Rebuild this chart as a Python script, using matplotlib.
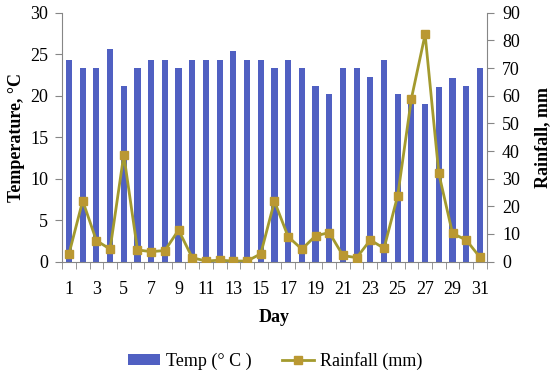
import numpy as np
import matplotlib
matplotlib.use("Agg")
import matplotlib.pyplot as plt
from matplotlib.ticker import MultipleLocator

plt.rcParams['font.family'] = ['Liberation Serif', 'DejaVu Serif']

days = np.arange(1, 32)
temp = [24.3, 23.3, 23.4, 25.7, 21.2, 23.3, 24.3, 24.3, 23.3, 24.3,
        24.3, 24.3, 25.4, 24.3, 24.3, 23.3, 24.3, 23.3, 21.2, 20.2,
        23.3, 23.3, 22.3, 24.3, 20.2, 19.6, 19.0, 21.1, 22.2, 21.2, 23.3]
rain = [2.8, 22.0, 7.6, 4.5, 38.6, 4.2, 3.6, 4.0, 11.4, 1.4,
        0.2, 0.5, 0.2, 0.2, 2.8, 21.8, 9.0, 4.5, 9.3, 10.5,
        2.2, 1.4, 7.8, 4.8, 23.9, 59.0, 82.2, 31.9, 10.2, 7.8, 1.6]

bar_col = "#5060C2"
line_col = "#A39A2E"
mark_col = "#BA9832"
grey = "#868686"

fig = plt.figure(figsize=(5.5, 3.78), dpi=100)
ax = fig.add_axes([0.113, 0.308, 0.772, 0.658])
ax2 = ax.twinx()

b = ax.bar(days, temp, width=0.45, color=bar_col, label="Temp (° C )", zorder=2)
l, = ax2.plot(days, rain, color=line_col, lw=2, marker='s', markersize=6,
              markerfacecolor=mark_col, markeredgecolor=mark_col,
              label="Rainfall (mm)")

ax.set_xlim(0.5, 31.5)
ax.set_ylim(0, 30)
ax2.set_ylim(0, 90)
ax.yaxis.set_major_locator(MultipleLocator(5))
ax2.yaxis.set_major_locator(MultipleLocator(10))
ax.set_xticks(days[::2])
ax.set_xticks(np.arange(0.5, 32, 1), minor=True)
ax.tick_params(axis='x', which='major', length=0, labelsize=13, pad=14)
ax.tick_params(axis='x', which='minor', length=5, color=grey)
ax.tick_params(axis='y', labelsize=13, length=5, color=grey, pad=5)
ax2.tick_params(axis='y', labelsize=13, length=5, color=grey, pad=6)

for a in (ax, ax2):
    a.spines['top'].set_visible(False)
    for s in ('left', 'right', 'bottom'):
        a.spines[s].set_color(grey)
ax.spines['right'].set_visible(False)
ax2.spines['left'].set_visible(False)
ax2.spines['bottom'].set_visible(False)

ax.set_xlabel("Day", fontsize=13, fontweight='bold', labelpad=8)
ax.set_ylabel("Temperature, °C", fontsize=13, fontweight='bold', labelpad=4)
ax2.set_ylabel("Rainfall, mm", fontsize=13, fontweight='bold', labelpad=10)

fig.legend([b, l], ["Temp (° C )", "Rainfall (mm)"], loc='center',
           bbox_to_anchor=(0.5, 0.045), ncol=2, frameon=False, fontsize=13,
           handlelength=1.8, handleheight=0.6, columnspacing=1.7,
           handletextpad=0.3)

fig.savefig("out.png", dpi=100)
